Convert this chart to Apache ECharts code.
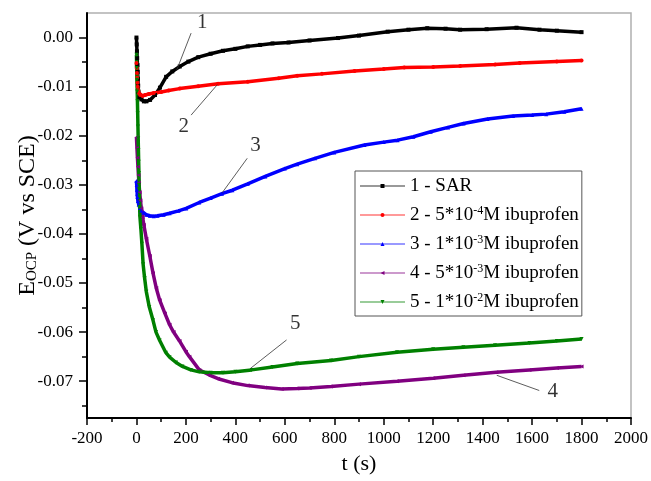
<!DOCTYPE html>
<html><head><meta charset="utf-8">
<script src="https://cdn.jsdelivr.net/npm/echarts@6/dist/echarts.min.js"></script>
<style>html,body{margin:0;padding:0;background:#fff}#c{width:651px;height:481px}</style>
</head><body><div id="c"></div>
<script>
// ---- DATA ----
const seriesNames = ['1 - SAR', '2 - 5*10^-4M ibuprofen', '3 - 1*10^-3M ibuprofen', '4 - 5*10^-3M ibuprofen', '5 - 1*10^-2M ibuprofen'];
const legendLabels = ['1 - SAR', '2 - 5*10{sup|-4}M ibuprofen', '3 - 1*10{sup|-3}M ibuprofen', '4 - 5*10{sup|-3}M ibuprofen', '5 - 1*10{sup|-2}M ibuprofen'];
const seriesColors = ['#000000', '#ff0000', '#0000ff', '#800080', '#008000'];

const sarT = [0,1,2,3,4,5,6,7,8,12,20,30,40,55,75,95,120,145,175,210,250,300,350,400,450,500,550,615,700,815,900,1016,1100,1176,1250,1309,1416,1537,1630,1700,1800];
const sarV = [0,-0.0014,-0.0028,-0.0042,-0.0056,-0.007,-0.0084,-0.0098,-0.011,-0.0122,-0.0126,-0.013,-0.013,-0.0127,-0.0117,-0.0102,-0.0080,-0.0069,-0.0059,-0.0049,-0.0040,-0.0033,-0.0027,-0.0023,-0.0018,-0.0015,-0.0012,-0.0010,-0.0006,-0.0001,0.0004,0.0012,0.0016,0.0019,0.0018,0.0016,0.0017,0.0020,0.0016,0.0014,0.0011];

const ibu1T = [0,1,2,3,4,5,7,10,15,25,35,50,70,100,130,175,250,330,450,575,650,750,882,1000,1083,1200,1309,1450,1550,1700,1800];
const ibu1V = [-0.0052,-0.0062,-0.0072,-0.0082,-0.0092,-0.0100,-0.0108,-0.0113,-0.0117,-0.0119,-0.0117,-0.0115,-0.0113,-0.0111,-0.0108,-0.0104,-0.0099,-0.0094,-0.0090,-0.0083,-0.0078,-0.0074,-0.0068,-0.0064,-0.0061,-0.0060,-0.0058,-0.0055,-0.0052,-0.0049,-0.0047];

const ibu2T = [0,1,2,3,4,6,9,14,20,27,40,54,70,85,110,134,170,201,254,300,346,388,450,521,600,650,722,800,922,1000,1056,1120,1190,1260,1323,1420,1523,1600,1657,1730,1800];
const ibu2V = [-0.0292,-0.0300,-0.0310,-0.0318,-0.0325,-0.0333,-0.0340,-0.0347,-0.0353,-0.0357,-0.0361,-0.0363,-0.0364,-0.0363,-0.0361,-0.0358,-0.0353,-0.0348,-0.0336,-0.0327,-0.0318,-0.0311,-0.0298,-0.0283,-0.0267,-0.0258,-0.0246,-0.0234,-0.0219,-0.0213,-0.0209,-0.0202,-0.0192,-0.0183,-0.0175,-0.0166,-0.0160,-0.0158,-0.0156,-0.0151,-0.0145];

const ibu3T = [0,2,4,6,8,10,13,16,20,25,30,40,54,67,80,94,115,134,150,174,200,214,254,293,330,386,450,520,587,650,700,787,900,1054,1200,1322,1455,1589,1700,1800];
const ibu3V = [-0.0203,-0.0225,-0.0245,-0.0263,-0.0280,-0.0296,-0.0315,-0.0332,-0.0348,-0.0366,-0.0382,-0.0410,-0.0445,-0.0480,-0.0510,-0.0535,-0.0562,-0.0585,-0.0600,-0.0618,-0.0640,-0.0650,-0.0677,-0.0687,-0.0695,-0.0703,-0.0709,-0.0713,-0.0716,-0.0715,-0.0714,-0.0711,-0.0706,-0.0700,-0.0694,-0.0688,-0.0682,-0.0677,-0.0673,-0.0670];

const ibu4T = [0,1,2,3,4,5,6,7,8,9,10,11,12,13,14,18,22,27,33,40,52,67,79,94,119,134,160,186,220,254,300,350,400,466,550,650,787,900,1054,1200,1322,1450,1589,1700,1800];
const ibu4V = [-0.0035,-0.0062,-0.0086,-0.0110,-0.0130,-0.0154,-0.0181,-0.0205,-0.0229,-0.0253,-0.0276,-0.0300,-0.0324,-0.0345,-0.0365,-0.0390,-0.0420,-0.0462,-0.0490,-0.0518,-0.0549,-0.0576,-0.0600,-0.0617,-0.0642,-0.0651,-0.0662,-0.0670,-0.0677,-0.0681,-0.0683,-0.0683,-0.0681,-0.0677,-0.0671,-0.0664,-0.0658,-0.0650,-0.0641,-0.0635,-0.0631,-0.0627,-0.0622,-0.0618,-0.0614];

const yTicks = [0, -0.01, -0.02, -0.03, -0.04, -0.05, -0.06, -0.07];

// annotation numbers and leader lines (data coordinates)
const annotText = ['1', '2', '3', '4', '5'];
const annotPos = [[266, 0.0030], [191, -0.0181], [481, -0.0219], [1684, -0.0722], [642, -0.0582]];
const annotLineFrom = [[221, 0.0009], [221, -0.0158], [448, -0.0246], [1629, -0.0719], [607, -0.0616]];
const annotLineTo = [[163, -0.0066], [327, -0.0096], [347, -0.0316], [1457, -0.0688], [461, -0.0674]];

// ---- CHART ----
const FONT = '"Liberation Serif", serif';
const allT = [sarT, ibu1T, ibu2T, ibu3T, ibu4T];
const allV = [sarV, ibu1V, ibu2V, ibu3V, ibu4V];
const symbols = ['rect', 'circle', 'triangle', 'path://M0,5 L10,0 L10,10 Z', 'path://M0,0 L10,0 L5,10 Z'];

const lineSeries = seriesNames.map((name, i) => ({
  name: name,
  type: 'line',
  data: allT[i].map((t, k) => [t, allV[i][k]]),
  symbol: symbols[i],
  symbolSize: 4,
  showSymbol: true,
  showAllSymbol: true,
  color: seriesColors[i],
  lineStyle: { color: seriesColors[i], width: 3.5 },
  itemStyle: { color: seriesColors[i] },
  z: 3
}));

const chart = echarts.init(document.getElementById('c'), null, { renderer: 'canvas' });
chart.setOption({
  animation: false,
  backgroundColor: '#ffffff',
  textStyle: { fontFamily: FONT, color: '#000' },
  grid: { left: 87, right: 15, top: 13, bottom: 63, show: true, borderColor: '#b0b0b0', borderWidth: 1.5 },
  legend: {
    orient: 'vertical', left: 355, top: 171,
    padding: [5, 3, 4, 4], itemGap: 9, itemWidth: 45, itemHeight: 5,
    borderColor: '#555', borderWidth: 1, backgroundColor: '#fff',
    data: seriesNames,
    formatter: name => legendLabels[seriesNames.indexOf(name)],
    lineStyle: { width: 2, opacity: 0.4 },
    textStyle: {
      fontFamily: FONT, fontSize: 19, color: '#000', lineHeight: 20,
      rich: { sup: { fontFamily: FONT, fontSize: 12, lineHeight: 20, verticalAlign: 'top', color: '#000' } }
    }
  },
  xAxis: {
    type: 'value', min: -200, max: 2000, interval: 200,
    name: 't (s)', nameLocation: 'middle', nameGap: 35,
    nameTextStyle: { fontFamily: FONT, fontSize: 22, color: '#000' },
    axisLine: { show: true, onZero: false, lineStyle: { color: '#000', width: 2 } },
    axisTick: { show: true, inside: false, length: 7, lineStyle: { color: '#000', width: 1.5 } },
    minorTick: { show: true, splitNumber: 2, length: 4, lineStyle: { color: '#000', width: 1.5 } },
    axisLabel: { margin: 12, fontFamily: FONT, fontSize: 17, color: '#000', formatter: v => String(v) },
    splitLine: { show: false }
  },
  yAxis: {
    type: 'value', min: -0.0775, max: 0.005, splitNumber: 8,
    name: '{m|E}{s|OCP}{m| (V vs SCE)}', nameLocation: 'middle', nameGap: 47, nameRotate: 90, nameMoveOverlap: false,
    nameTextStyle: {
      fontFamily: FONT, fontSize: 24, color: '#000',
      rich: {
        m: { fontFamily: FONT, fontSize: 24, color: '#000', lineHeight: 28, verticalAlign: 'bottom' },
        s: { fontFamily: FONT, fontSize: 15, color: '#000', lineHeight: 24, verticalAlign: 'bottom' }
      }
    },
    axisLine: { show: true, onZero: false, lineStyle: { color: '#000', width: 2 } },
    axisTick: { show: true, inside: false, length: 8, customValues: yTicks, lineStyle: { color: '#000', width: 1.5 } },
    minorTick: { show: true, splitNumber: 2, length: 5, lineStyle: { color: '#000', width: 1.5 } },
    axisLabel: { customValues: yTicks, margin: 14, fontFamily: FONT, fontSize: 17, color: '#000', formatter: v => v.toFixed(2) },
    splitLine: { show: false }
  },
  series: lineSeries.concat([
    {
      name: 'leaders', type: 'lines', coordinateSystem: 'cartesian2d', silent: true, z: 4,
      lineStyle: { color: '#333', width: 0.8, opacity: 1 },
      data: annotLineFrom.map((p, i) => ({ coords: [p, annotLineTo[i]] }))
    },
    {
      name: 'annot', type: 'scatter', silent: true, symbolSize: 1, z: 5,
      itemStyle: { color: 'rgba(0,0,0,0)' },
      label: { show: true, position: 'inside', formatter: '{b}', fontFamily: FONT, fontSize: 21, color: '#000' },
      data: annotText.map((s, i) => ({ name: s, value: annotPos[i] }))
    }
  ])
});
</script>
</body></html>
